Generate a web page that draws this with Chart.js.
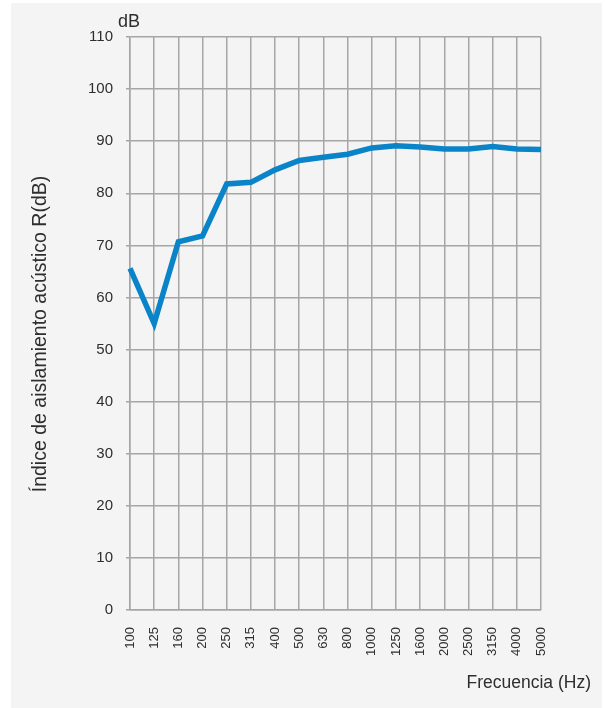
<!DOCTYPE html>
<html>
<head>
<meta charset="utf-8">
<script src="https://cdn.jsdelivr.net/npm/chart.js@4.4.1/dist/chart.umd.min.js"></script>
<style>
  html, body { margin: 0; padding: 0; background: #ffffff; }
  #wrap { position: relative; width: 605px; height: 708px; }
</style>
</head>
<body>
<div id="wrap"><canvas id="c"></canvas></div>
<script>
const frequencies = ['100','125','160','200','250','315','400','500','630','800','1000','1250','1600','2000','2500','3150','4000','5000'];
const insulationR = [65.6, 55.0, 70.7, 71.8, 81.8, 82.1, 84.5, 86.3, 86.9, 87.5, 88.7, 89.1, 88.9, 88.5, 88.5, 89.0, 88.5, 88.4];
const yMin = 0, yMax = 110, yStep = 10;
const yTitle = 'Índice de aislamiento acústico R(dB)';
const xTitle = 'Frecuencia (Hz)';
const yUnit = 'dB';

const FONT = '"Liberation Sans", Arial, sans-serif';
const TEXT = '#2e2e2e';
const GRID = '#a6a6a6';

const panelAndTitles = {
  id: 'panelAndTitles',
  beforeDraw(chart) {
    const ctx = chart.ctx;
    ctx.save();
    ctx.fillStyle = '#f4f4f4';
    ctx.fillRect(11, 3, 591, 705);
    ctx.restore();
  },
  afterDraw(chart) {
    const ctx = chart.ctx;
    const a = chart.chartArea;
    ctx.save();
    ctx.fillStyle = TEXT;
    // unit label above y axis
    ctx.font = '18px ' + FONT;
    ctx.textAlign = 'left';
    ctx.textBaseline = 'alphabetic';
    ctx.fillText(yUnit, a.left - 12, 27);
    // x title
    ctx.font = '17.5px ' + FONT;
    ctx.textAlign = 'right';
    ctx.fillText(xTitle, 591, 688);
    // y title rotated
    ctx.translate(41, 334);
    ctx.rotate(-Math.PI / 2);
    ctx.font = '19.5px ' + FONT;
    ctx.textAlign = 'center';
    ctx.textBaseline = 'middle';
    ctx.fillText(yTitle, 0, 0);
    ctx.restore();
  }
};

new Chart(document.getElementById('c'), {
  type: 'line',
  data: {
    labels: frequencies,
    datasets: [{
      data: insulationR,
      borderColor: '#0a84c9',
      borderWidth: 5.5,
      pointRadius: 0,
      tension: 0,
      borderJoinStyle: 'miter',
      borderCapStyle: 'butt',
      fill: false
    }]
  },
  options: {
    responsive: true,
    maintainAspectRatio: false,
    animation: false,
    layout: { padding: { top: 37, right: 64, left: 0, bottom: 0 } },
    plugins: { legend: { display: false }, tooltip: { enabled: false }, title: { display: false } },
    scales: {
      x: {
        offset: false,
        grid: { color: GRID, lineWidth: 1.5, drawTicks: false },
        border: { display: true, color: GRID, width: 1.5 },
        ticks: {
          autoSkip: false, minRotation: 90, maxRotation: 90, padding: 17,
          color: TEXT, font: { family: FONT, size: 13 }
        },
        afterFit(s) { s.height = 98; }
      },
      y: {
        min: yMin, max: yMax,
        grid: { color: GRID, lineWidth: 1.5, tickLength: 4 },
        border: { display: true, color: GRID, width: 1.5 },
        ticks: {
          stepSize: yStep, padding: 13,
          color: TEXT, font: { family: FONT, size: 15 }
        },
        afterFit(s) { s.width = 130; }
      }
    }
  },
  plugins: [panelAndTitles]
});
</script>
</body>
</html>
